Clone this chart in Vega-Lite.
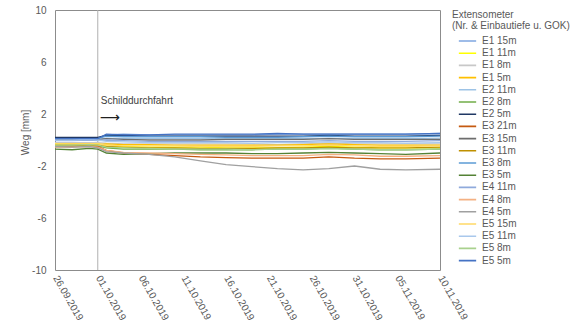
{
"$schema":"https://vega.github.io/schema/vega-lite/v6.json",
"autosize":{"type":"none"},
"padding":{"left":55,"top":10,"right":138,"bottom":65},
"width":385,
"height":260,
"config":{"font":"Liberation Sans","view":{"stroke":"#8c8c8c","strokeWidth":1},"axis":{"labelColor":"#595959","titleColor":"#595959","grid":false,"domain":false}},
"datasets":{"ext":[
{"d":"2019-09-26","s":"E1 15m","v":0.15},{"d":"2019-09-28","s":"E1 15m","v":0.15},{"d":"2019-09-30","s":"E1 15m","v":0.15},{"d":"2019-10-01","s":"E1 15m","v":0.15},{"d":"2019-10-02","s":"E1 15m","v":0.4},{"d":"2019-10-04","s":"E1 15m","v":0.45},{"d":"2019-10-07","s":"E1 15m","v":0.4},{"d":"2019-10-10","s":"E1 15m","v":0.4},{"d":"2019-10-13","s":"E1 15m","v":0.4},{"d":"2019-10-16","s":"E1 15m","v":0.4},{"d":"2019-10-19","s":"E1 15m","v":0.4},{"d":"2019-10-22","s":"E1 15m","v":0.45},{"d":"2019-10-25","s":"E1 15m","v":0.45},{"d":"2019-10-28","s":"E1 15m","v":0.45},{"d":"2019-10-31","s":"E1 15m","v":0.45},{"d":"2019-11-03","s":"E1 15m","v":0.45},{"d":"2019-11-06","s":"E1 15m","v":0.45},{"d":"2019-11-10","s":"E1 15m","v":0.5},
{"d":"2019-09-26","s":"E1 11m","v":-0.25},{"d":"2019-09-28","s":"E1 11m","v":-0.25},{"d":"2019-09-30","s":"E1 11m","v":-0.2},{"d":"2019-10-01","s":"E1 11m","v":-0.25},{"d":"2019-10-02","s":"E1 11m","v":-0.45},{"d":"2019-10-04","s":"E1 11m","v":-0.5},{"d":"2019-10-07","s":"E1 11m","v":-0.55},{"d":"2019-10-10","s":"E1 11m","v":-0.55},{"d":"2019-10-13","s":"E1 11m","v":-0.55},{"d":"2019-10-16","s":"E1 11m","v":-0.6},{"d":"2019-10-19","s":"E1 11m","v":-0.6},{"d":"2019-10-22","s":"E1 11m","v":-0.6},{"d":"2019-10-25","s":"E1 11m","v":-0.55},{"d":"2019-10-28","s":"E1 11m","v":-0.5},{"d":"2019-10-31","s":"E1 11m","v":-0.55},{"d":"2019-11-03","s":"E1 11m","v":-0.6},{"d":"2019-11-06","s":"E1 11m","v":-0.6},{"d":"2019-11-10","s":"E1 11m","v":-0.6},
{"d":"2019-09-26","s":"E1 8m","v":-0.2},{"d":"2019-09-28","s":"E1 8m","v":-0.2},{"d":"2019-09-30","s":"E1 8m","v":-0.2},{"d":"2019-10-01","s":"E1 8m","v":-0.2},{"d":"2019-10-02","s":"E1 8m","v":-0.25},{"d":"2019-10-04","s":"E1 8m","v":-0.3},{"d":"2019-10-07","s":"E1 8m","v":-0.3},{"d":"2019-10-10","s":"E1 8m","v":-0.3},{"d":"2019-10-13","s":"E1 8m","v":-0.3},{"d":"2019-10-16","s":"E1 8m","v":-0.3},{"d":"2019-10-19","s":"E1 8m","v":-0.3},{"d":"2019-10-22","s":"E1 8m","v":-0.35},{"d":"2019-10-25","s":"E1 8m","v":-0.3},{"d":"2019-10-28","s":"E1 8m","v":-0.25},{"d":"2019-10-31","s":"E1 8m","v":-0.3},{"d":"2019-11-03","s":"E1 8m","v":-0.3},{"d":"2019-11-06","s":"E1 8m","v":-0.3},{"d":"2019-11-10","s":"E1 8m","v":-0.3},
{"d":"2019-09-26","s":"E1 5m","v":-0.35},{"d":"2019-09-28","s":"E1 5m","v":-0.3},{"d":"2019-09-30","s":"E1 5m","v":-0.3},{"d":"2019-10-01","s":"E1 5m","v":-0.35},{"d":"2019-10-02","s":"E1 5m","v":-0.3},{"d":"2019-10-04","s":"E1 5m","v":-0.35},{"d":"2019-10-07","s":"E1 5m","v":-0.35},{"d":"2019-10-10","s":"E1 5m","v":-0.4},{"d":"2019-10-13","s":"E1 5m","v":-0.4},{"d":"2019-10-16","s":"E1 5m","v":-0.4},{"d":"2019-10-19","s":"E1 5m","v":-0.4},{"d":"2019-10-22","s":"E1 5m","v":-0.4},{"d":"2019-10-25","s":"E1 5m","v":-0.35},{"d":"2019-10-28","s":"E1 5m","v":-0.3},{"d":"2019-10-31","s":"E1 5m","v":-0.35},{"d":"2019-11-03","s":"E1 5m","v":-0.4},{"d":"2019-11-06","s":"E1 5m","v":-0.4},{"d":"2019-11-10","s":"E1 5m","v":-0.4},
{"d":"2019-09-26","s":"E2 11m","v":0},{"d":"2019-09-28","s":"E2 11m","v":0},{"d":"2019-09-30","s":"E2 11m","v":0},{"d":"2019-10-01","s":"E2 11m","v":0},{"d":"2019-10-02","s":"E2 11m","v":0.15},{"d":"2019-10-04","s":"E2 11m","v":0.1},{"d":"2019-10-07","s":"E2 11m","v":0.1},{"d":"2019-10-10","s":"E2 11m","v":0.1},{"d":"2019-10-13","s":"E2 11m","v":0.1},{"d":"2019-10-16","s":"E2 11m","v":0.1},{"d":"2019-10-19","s":"E2 11m","v":0.1},{"d":"2019-10-22","s":"E2 11m","v":0.1},{"d":"2019-10-25","s":"E2 11m","v":0.1},{"d":"2019-10-28","s":"E2 11m","v":0.15},{"d":"2019-10-31","s":"E2 11m","v":0.1},{"d":"2019-11-03","s":"E2 11m","v":0.1},{"d":"2019-11-06","s":"E2 11m","v":0.1},{"d":"2019-11-10","s":"E2 11m","v":0.15},
{"d":"2019-09-26","s":"E2 8m","v":-0.45},{"d":"2019-09-28","s":"E2 8m","v":-0.4},{"d":"2019-09-30","s":"E2 8m","v":-0.45},{"d":"2019-10-01","s":"E2 8m","v":-0.45},{"d":"2019-10-02","s":"E2 8m","v":-0.6},{"d":"2019-10-04","s":"E2 8m","v":-0.7},{"d":"2019-10-07","s":"E2 8m","v":-0.7},{"d":"2019-10-10","s":"E2 8m","v":-0.7},{"d":"2019-10-13","s":"E2 8m","v":-0.75},{"d":"2019-10-16","s":"E2 8m","v":-0.75},{"d":"2019-10-19","s":"E2 8m","v":-0.75},{"d":"2019-10-22","s":"E2 8m","v":-0.7},{"d":"2019-10-25","s":"E2 8m","v":-0.7},{"d":"2019-10-28","s":"E2 8m","v":-0.65},{"d":"2019-10-31","s":"E2 8m","v":-0.7},{"d":"2019-11-03","s":"E2 8m","v":-0.75},{"d":"2019-11-06","s":"E2 8m","v":-0.75},{"d":"2019-11-10","s":"E2 8m","v":-0.7},
{"d":"2019-09-26","s":"E2 5m","v":0.2},{"d":"2019-09-28","s":"E2 5m","v":0.2},{"d":"2019-09-30","s":"E2 5m","v":0.2},{"d":"2019-10-01","s":"E2 5m","v":0.2},{"d":"2019-10-02","s":"E2 5m","v":0.35},{"d":"2019-10-04","s":"E2 5m","v":0.35},{"d":"2019-10-07","s":"E2 5m","v":0.3},{"d":"2019-10-10","s":"E2 5m","v":0.3},{"d":"2019-10-13","s":"E2 5m","v":0.3},{"d":"2019-10-16","s":"E2 5m","v":0.3},{"d":"2019-10-19","s":"E2 5m","v":0.3},{"d":"2019-10-22","s":"E2 5m","v":0.3},{"d":"2019-10-25","s":"E2 5m","v":0.3},{"d":"2019-10-28","s":"E2 5m","v":0.35},{"d":"2019-10-31","s":"E2 5m","v":0.3},{"d":"2019-11-03","s":"E2 5m","v":0.3},{"d":"2019-11-06","s":"E2 5m","v":0.3},{"d":"2019-11-10","s":"E2 5m","v":0.35},
{"d":"2019-09-26","s":"E3 21m","v":-0.5},{"d":"2019-09-28","s":"E3 21m","v":-0.5},{"d":"2019-09-30","s":"E3 21m","v":-0.45},{"d":"2019-10-01","s":"E3 21m","v":-0.5},{"d":"2019-10-02","s":"E3 21m","v":-0.8},{"d":"2019-10-04","s":"E3 21m","v":-1.0},{"d":"2019-10-07","s":"E3 21m","v":-1.1},{"d":"2019-10-10","s":"E3 21m","v":-1.2},{"d":"2019-10-13","s":"E3 21m","v":-1.3},{"d":"2019-10-16","s":"E3 21m","v":-1.35},{"d":"2019-10-19","s":"E3 21m","v":-1.4},{"d":"2019-10-22","s":"E3 21m","v":-1.4},{"d":"2019-10-25","s":"E3 21m","v":-1.4},{"d":"2019-10-28","s":"E3 21m","v":-1.3},{"d":"2019-10-31","s":"E3 21m","v":-1.4},{"d":"2019-11-03","s":"E3 21m","v":-1.45},{"d":"2019-11-06","s":"E3 21m","v":-1.45},{"d":"2019-11-10","s":"E3 21m","v":-1.4},
{"d":"2019-09-26","s":"E3 15m","v":0.05},{"d":"2019-09-28","s":"E3 15m","v":0.05},{"d":"2019-09-30","s":"E3 15m","v":0.05},{"d":"2019-10-01","s":"E3 15m","v":0.05},{"d":"2019-10-02","s":"E3 15m","v":0.1},{"d":"2019-10-04","s":"E3 15m","v":0.05},{"d":"2019-10-07","s":"E3 15m","v":0},{"d":"2019-10-10","s":"E3 15m","v":0},{"d":"2019-10-13","s":"E3 15m","v":0},{"d":"2019-10-16","s":"E3 15m","v":0.05},{"d":"2019-10-19","s":"E3 15m","v":0.05},{"d":"2019-10-22","s":"E3 15m","v":0.05},{"d":"2019-10-25","s":"E3 15m","v":0.05},{"d":"2019-10-28","s":"E3 15m","v":0.1},{"d":"2019-10-31","s":"E3 15m","v":0.05},{"d":"2019-11-03","s":"E3 15m","v":0.05},{"d":"2019-11-06","s":"E3 15m","v":0.05},{"d":"2019-11-10","s":"E3 15m","v":0.05},
{"d":"2019-09-26","s":"E3 11m","v":-0.4},{"d":"2019-09-28","s":"E3 11m","v":-0.4},{"d":"2019-09-30","s":"E3 11m","v":-0.4},{"d":"2019-10-01","s":"E3 11m","v":-0.4},{"d":"2019-10-02","s":"E3 11m","v":-0.5},{"d":"2019-10-04","s":"E3 11m","v":-0.55},{"d":"2019-10-07","s":"E3 11m","v":-0.6},{"d":"2019-10-10","s":"E3 11m","v":-0.6},{"d":"2019-10-13","s":"E3 11m","v":-0.65},{"d":"2019-10-16","s":"E3 11m","v":-0.65},{"d":"2019-10-19","s":"E3 11m","v":-0.65},{"d":"2019-10-22","s":"E3 11m","v":-0.6},{"d":"2019-10-25","s":"E3 11m","v":-0.6},{"d":"2019-10-28","s":"E3 11m","v":-0.55},{"d":"2019-10-31","s":"E3 11m","v":-0.6},{"d":"2019-11-03","s":"E3 11m","v":-0.6},{"d":"2019-11-06","s":"E3 11m","v":-0.6},{"d":"2019-11-10","s":"E3 11m","v":-0.55},
{"d":"2019-09-26","s":"E3 8m","v":0.1},{"d":"2019-09-28","s":"E3 8m","v":0.1},{"d":"2019-09-30","s":"E3 8m","v":0.1},{"d":"2019-10-01","s":"E3 8m","v":0.1},{"d":"2019-10-02","s":"E3 8m","v":0.3},{"d":"2019-10-04","s":"E3 8m","v":0.25},{"d":"2019-10-07","s":"E3 8m","v":0.25},{"d":"2019-10-10","s":"E3 8m","v":0.25},{"d":"2019-10-13","s":"E3 8m","v":0.25},{"d":"2019-10-16","s":"E3 8m","v":0.2},{"d":"2019-10-19","s":"E3 8m","v":0.2},{"d":"2019-10-22","s":"E3 8m","v":0.2},{"d":"2019-10-25","s":"E3 8m","v":0.25},{"d":"2019-10-28","s":"E3 8m","v":0.3},{"d":"2019-10-31","s":"E3 8m","v":0.25},{"d":"2019-11-03","s":"E3 8m","v":0.25},{"d":"2019-11-06","s":"E3 8m","v":0.25},{"d":"2019-11-10","s":"E3 8m","v":0.3},
{"d":"2019-09-26","s":"E3 5m","v":-0.7},{"d":"2019-09-28","s":"E3 5m","v":-0.75},{"d":"2019-09-30","s":"E3 5m","v":-0.65},{"d":"2019-10-01","s":"E3 5m","v":-0.7},{"d":"2019-10-02","s":"E3 5m","v":-1.0},{"d":"2019-10-04","s":"E3 5m","v":-1.1},{"d":"2019-10-07","s":"E3 5m","v":-1.05},{"d":"2019-10-10","s":"E3 5m","v":-1.0},{"d":"2019-10-13","s":"E3 5m","v":-1.0},{"d":"2019-10-16","s":"E3 5m","v":-1.0},{"d":"2019-10-19","s":"E3 5m","v":-1.05},{"d":"2019-10-22","s":"E3 5m","v":-1.05},{"d":"2019-10-25","s":"E3 5m","v":-1.0},{"d":"2019-10-28","s":"E3 5m","v":-0.95},{"d":"2019-10-31","s":"E3 5m","v":-1.0},{"d":"2019-11-03","s":"E3 5m","v":-1.05},{"d":"2019-11-06","s":"E3 5m","v":-1.1},{"d":"2019-11-10","s":"E3 5m","v":-1.0},
{"d":"2019-09-26","s":"E4 11m","v":-0.05},{"d":"2019-09-28","s":"E4 11m","v":-0.05},{"d":"2019-09-30","s":"E4 11m","v":0},{"d":"2019-10-01","s":"E4 11m","v":-0.05},{"d":"2019-10-02","s":"E4 11m","v":0},{"d":"2019-10-04","s":"E4 11m","v":-0.05},{"d":"2019-10-07","s":"E4 11m","v":-0.1},{"d":"2019-10-10","s":"E4 11m","v":-0.1},{"d":"2019-10-13","s":"E4 11m","v":-0.1},{"d":"2019-10-16","s":"E4 11m","v":-0.1},{"d":"2019-10-19","s":"E4 11m","v":-0.1},{"d":"2019-10-22","s":"E4 11m","v":-0.1},{"d":"2019-10-25","s":"E4 11m","v":-0.1},{"d":"2019-10-28","s":"E4 11m","v":-0.05},{"d":"2019-10-31","s":"E4 11m","v":-0.1},{"d":"2019-11-03","s":"E4 11m","v":-0.1},{"d":"2019-11-06","s":"E4 11m","v":-0.1},{"d":"2019-11-10","s":"E4 11m","v":-0.05},
{"d":"2019-09-26","s":"E4 8m","v":-0.55},{"d":"2019-09-28","s":"E4 8m","v":-0.55},{"d":"2019-09-30","s":"E4 8m","v":-0.5},{"d":"2019-10-01","s":"E4 8m","v":-0.55},{"d":"2019-10-02","s":"E4 8m","v":-0.8},{"d":"2019-10-04","s":"E4 8m","v":-0.95},{"d":"2019-10-07","s":"E4 8m","v":-1.0},{"d":"2019-10-10","s":"E4 8m","v":-1.05},{"d":"2019-10-13","s":"E4 8m","v":-1.1},{"d":"2019-10-16","s":"E4 8m","v":-1.15},{"d":"2019-10-19","s":"E4 8m","v":-1.2},{"d":"2019-10-22","s":"E4 8m","v":-1.2},{"d":"2019-10-25","s":"E4 8m","v":-1.2},{"d":"2019-10-28","s":"E4 8m","v":-1.1},{"d":"2019-10-31","s":"E4 8m","v":-1.15},{"d":"2019-11-03","s":"E4 8m","v":-1.25},{"d":"2019-11-06","s":"E4 8m","v":-1.25},{"d":"2019-11-10","s":"E4 8m","v":-1.2},
{"d":"2019-09-26","s":"E4 5m","v":-0.5},{"d":"2019-09-28","s":"E4 5m","v":-0.55},{"d":"2019-09-30","s":"E4 5m","v":-0.5},{"d":"2019-10-01","s":"E4 5m","v":-0.6},{"d":"2019-10-02","s":"E4 5m","v":-0.9},{"d":"2019-10-04","s":"E4 5m","v":-1.0},{"d":"2019-10-07","s":"E4 5m","v":-1.1},{"d":"2019-10-10","s":"E4 5m","v":-1.3},{"d":"2019-10-13","s":"E4 5m","v":-1.6},{"d":"2019-10-16","s":"E4 5m","v":-1.9},{"d":"2019-10-19","s":"E4 5m","v":-2.05},{"d":"2019-10-22","s":"E4 5m","v":-2.2},{"d":"2019-10-25","s":"E4 5m","v":-2.3},{"d":"2019-10-28","s":"E4 5m","v":-2.2},{"d":"2019-10-31","s":"E4 5m","v":-2.0},{"d":"2019-11-03","s":"E4 5m","v":-2.25},{"d":"2019-11-06","s":"E4 5m","v":-2.3},{"d":"2019-11-10","s":"E4 5m","v":-2.25},
{"d":"2019-09-26","s":"E5 15m","v":-0.3},{"d":"2019-09-28","s":"E5 15m","v":-0.3},{"d":"2019-09-30","s":"E5 15m","v":-0.3},{"d":"2019-10-01","s":"E5 15m","v":-0.3},{"d":"2019-10-02","s":"E5 15m","v":-0.4},{"d":"2019-10-04","s":"E5 15m","v":-0.45},{"d":"2019-10-07","s":"E5 15m","v":-0.45},{"d":"2019-10-10","s":"E5 15m","v":-0.45},{"d":"2019-10-13","s":"E5 15m","v":-0.5},{"d":"2019-10-16","s":"E5 15m","v":-0.5},{"d":"2019-10-19","s":"E5 15m","v":-0.5},{"d":"2019-10-22","s":"E5 15m","v":-0.45},{"d":"2019-10-25","s":"E5 15m","v":-0.45},{"d":"2019-10-28","s":"E5 15m","v":-0.4},{"d":"2019-10-31","s":"E5 15m","v":-0.45},{"d":"2019-11-03","s":"E5 15m","v":-0.5},{"d":"2019-11-06","s":"E5 15m","v":-0.5},{"d":"2019-11-10","s":"E5 15m","v":-0.45},
{"d":"2019-09-26","s":"E5 11m","v":0},{"d":"2019-09-28","s":"E5 11m","v":0},{"d":"2019-09-30","s":"E5 11m","v":0.05},{"d":"2019-10-01","s":"E5 11m","v":0},{"d":"2019-10-02","s":"E5 11m","v":-0.1},{"d":"2019-10-04","s":"E5 11m","v":-0.15},{"d":"2019-10-07","s":"E5 11m","v":-0.2},{"d":"2019-10-10","s":"E5 11m","v":-0.2},{"d":"2019-10-13","s":"E5 11m","v":-0.2},{"d":"2019-10-16","s":"E5 11m","v":-0.2},{"d":"2019-10-19","s":"E5 11m","v":-0.25},{"d":"2019-10-22","s":"E5 11m","v":-0.2},{"d":"2019-10-25","s":"E5 11m","v":-0.2},{"d":"2019-10-28","s":"E5 11m","v":-0.15},{"d":"2019-10-31","s":"E5 11m","v":-0.2},{"d":"2019-11-03","s":"E5 11m","v":-0.2},{"d":"2019-11-06","s":"E5 11m","v":-0.25},{"d":"2019-11-10","s":"E5 11m","v":-0.2},
{"d":"2019-09-26","s":"E5 8m","v":-0.4},{"d":"2019-09-28","s":"E5 8m","v":-0.4},{"d":"2019-09-30","s":"E5 8m","v":-0.35},{"d":"2019-10-01","s":"E5 8m","v":-0.4},{"d":"2019-10-02","s":"E5 8m","v":-0.55},{"d":"2019-10-04","s":"E5 8m","v":-0.6},{"d":"2019-10-07","s":"E5 8m","v":-0.65},{"d":"2019-10-10","s":"E5 8m","v":-0.7},{"d":"2019-10-13","s":"E5 8m","v":-0.7},{"d":"2019-10-16","s":"E5 8m","v":-0.7},{"d":"2019-10-19","s":"E5 8m","v":-0.75},{"d":"2019-10-22","s":"E5 8m","v":-0.7},{"d":"2019-10-25","s":"E5 8m","v":-0.7},{"d":"2019-10-28","s":"E5 8m","v":-0.65},{"d":"2019-10-31","s":"E5 8m","v":-0.7},{"d":"2019-11-03","s":"E5 8m","v":-0.75},{"d":"2019-11-06","s":"E5 8m","v":-0.75},{"d":"2019-11-10","s":"E5 8m","v":-0.7},
{"d":"2019-09-26","s":"E5 5m","v":0.1},{"d":"2019-09-28","s":"E5 5m","v":0.1},{"d":"2019-09-30","s":"E5 5m","v":0.1},{"d":"2019-10-01","s":"E5 5m","v":0.1},{"d":"2019-10-02","s":"E5 5m","v":0.45},{"d":"2019-10-04","s":"E5 5m","v":0.4},{"d":"2019-10-07","s":"E5 5m","v":0.4},{"d":"2019-10-10","s":"E5 5m","v":0.45},{"d":"2019-10-13","s":"E5 5m","v":0.45},{"d":"2019-10-16","s":"E5 5m","v":0.45},{"d":"2019-10-19","s":"E5 5m","v":0.45},{"d":"2019-10-22","s":"E5 5m","v":0.5},{"d":"2019-10-25","s":"E5 5m","v":0.45},{"d":"2019-10-28","s":"E5 5m","v":0.45},{"d":"2019-10-31","s":"E5 5m","v":0.45},{"d":"2019-11-03","s":"E5 5m","v":0.45},{"d":"2019-11-06","s":"E5 5m","v":0.45},{"d":"2019-11-10","s":"E5 5m","v":0.5}
]},
"layer":[
{"data":{"values":[{"d":"2019-10-01"}]},"mark":{"type":"rule","color":"#b0b0b0","strokeWidth":1},
 "encoding":{"x":{"field":"d","type":"temporal"}}},
{"data":{"name":"ext"},"mark":{"type":"line","strokeWidth":1.3},
 "encoding":{
  "x":{"field":"d","type":"temporal","title":null,
   "scale":{"type":"utc","domain":[{"year":2019,"month":9,"date":26,"utc":true},{"year":2019,"month":11,"date":10,"utc":true}]},
   "axis":{"format":"%d.%m.%Y","labelAngle":60,"labelAlign":"left","labelBaseline":"middle","labelFontSize":10,"labelPadding":6,"ticks":false,"labelOverlap":false,"labelFlush":false,
    "values":[{"year":2019,"month":9,"date":26,"utc":true},{"year":2019,"month":10,"date":1,"utc":true},{"year":2019,"month":10,"date":6,"utc":true},{"year":2019,"month":10,"date":11,"utc":true},{"year":2019,"month":10,"date":16,"utc":true},{"year":2019,"month":10,"date":21,"utc":true},{"year":2019,"month":10,"date":26,"utc":true},{"year":2019,"month":10,"date":31,"utc":true},{"year":2019,"month":11,"date":5,"utc":true},{"year":2019,"month":11,"date":10,"utc":true}]}},
  "y":{"field":"v","type":"quantitative","title":"Weg [mm]",
   "scale":{"domain":[-10,10],"nice":false},
   "axis":{"values":[-10,-6,-2,2,6,10],"labelExpr":"replace(datum.label, '\u2212', '-')","labelFontSize":10,"labelPadding":9,"ticks":false,"titleFontSize":10,"titleFontWeight":"normal","titleX":-30,"titleY":122,"titleBaseline":"middle"}},
  "color":{"field":"s","type":"nominal",
   "scale":{"domain":["E1 15m","E1 11m","E1 8m","E1 5m","E2 11m","E2 8m","E2 5m","E3 21m","E3 15m","E3 11m","E3 8m","E3 5m","E4 11m","E4 8m","E4 5m","E5 15m","E5 11m","E5 8m","E5 5m"],
    "range":["#7ea6e0","#ffff00","#c8c8c8","#ffc000","#9dc3e6","#70ad47","#203864","#c55a11","#6d6d6d","#bf9000","#5b9bd5","#548235","#8faadc","#f4b183","#a0a0a0","#ffd966","#a9c8ec","#a9d18e","#4472c4"]},
   "legend":{"title":["Extensometer","(Nr. & Einbautiefe u. GOK)"],"orient":"right","offset":9,"padding":0,"titleFontSize":10,"titleFontWeight":"normal","titleColor":"#595959","titleLineHeight":11,"titlePadding":5,"titleBaseline":"top","labelFontSize":10,"labelColor":"#595959","symbolType":"stroke","symbolSize":300,"symbolStrokeWidth":1.6,"symbolOffset":6,"clipHeight":10,"rowPadding":2.2,"labelOffset":5}}
 }},
{"data":{"values":[{"d":"2019-10-01","v":3.0,"t":"Schilddurchfahrt"}]},"mark":{"type":"text","align":"left","dx":3,"fontSize":10,"color":"#404040"},
 "encoding":{"x":{"field":"d","type":"temporal"},"y":{"field":"v","type":"quantitative"},"text":{"field":"t"}}},
{"data":{"values":[{"d":"2019-10-01","v":1.7,"t":"⟶"}]},"mark":{"type":"text","align":"left","dx":2,"fontSize":14,"color":"#202020","font":"DejaVu Sans"},
 "encoding":{"x":{"field":"d","type":"temporal"},"y":{"field":"v","type":"quantitative"},"text":{"field":"t"}}}
]
}
